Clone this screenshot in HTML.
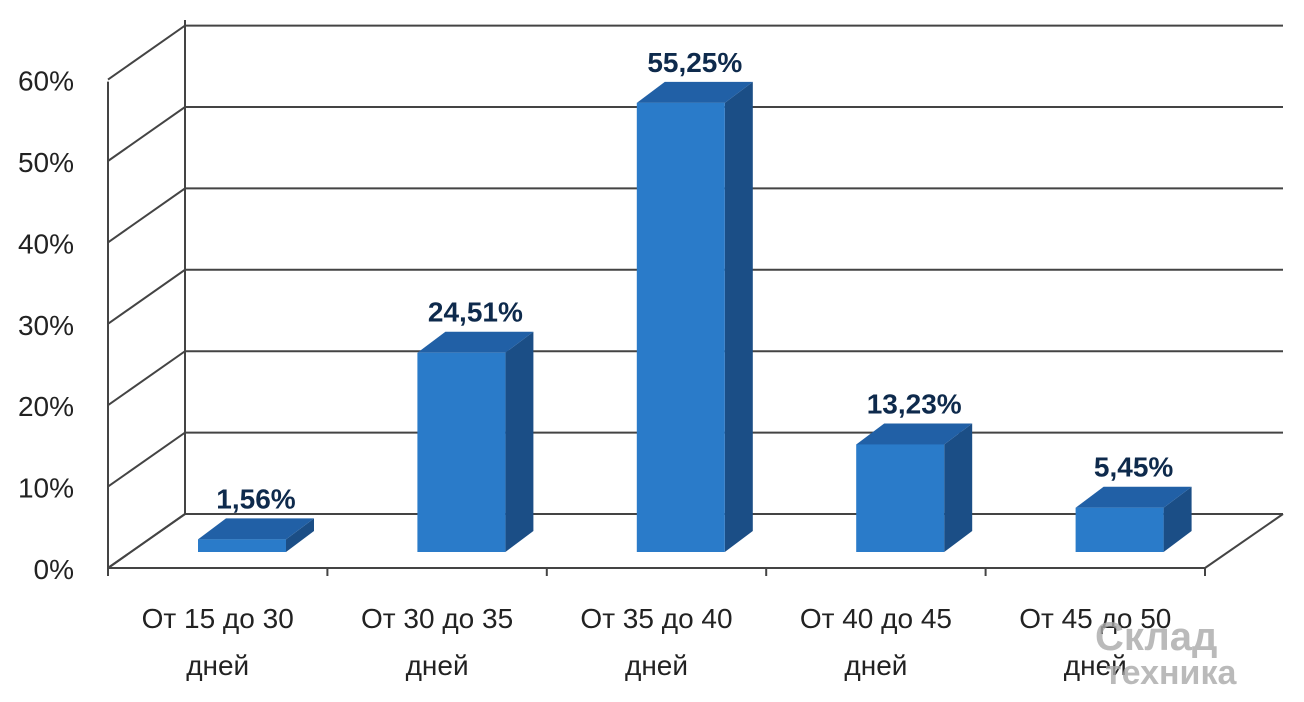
<!DOCTYPE html>
<html><head><meta charset="utf-8"><style>
body{margin:0;background:#fff;width:1304px;height:697px;overflow:hidden}
svg{font-family:"Liberation Sans",sans-serif}
</style></head><body>
<svg id="c" width="1304" height="697"></svg>
<script>
const categories=["От 15 до 30|дней","От 30 до 35|дней","От 35 до 40|дней","От 40 до 45|дней","От 45 до 50|дней"];
const values=[1.56,24.51,55.25,13.23,5.45];
const valueLabels=["1,56%","24,51%","55,25%","13,23%","5,45%"];
const yTicks=[0,10,20,30,40,50,60];
const yTickLabels=["0%","10%","20%","30%","40%","50%","60%"];
const NS="http://www.w3.org/2000/svg";
const svg=document.getElementById('c');
function mk(t,a,p){const e=document.createElementNS(NS,t);for(const k in a)e.setAttribute(k,a[k]);(p||svg).appendChild(e);return e;}
const x0=108,x1=1205,y0=568,ddx=77,ddy=-54,pxPer=8.13;
const fy=v=>y0-v*10*0.814*10/10*1; // front axis y for % value
function yF(v){return y0-v*8.14;}
const step=(x1-x0)/categories.length;
// back wall gridlines and left wall
yTicks.forEach((t,i)=>{
 const yf=yF(t);
 let l=mk('polyline',{points:`${x0},${yf} ${x0+ddx},${yf+ddy} 1283,${yf+ddy}`,fill:'none',stroke:'#444','stroke-width':2});
 
 
 let tx=mk('text',{x:74,y:yf+11,'text-anchor':'end','font-size':28,fill:'#222'});
 tx.textContent=yTickLabels[i];
 
 
});
mk('line',{x1:x0,y1:yF(0),x2:x0+ddx,y2:yF(0)+ddy-0,stroke:'#444','stroke-width':2});
mk('line',{x1:x0+ddx,y1:20,x2:x0+ddx,y2:yF(0)+ddy,stroke:'#444','stroke-width':2});
mk('line',{x1:x0,y1:yF(0),x2:x0,y2:yF(60)+2,stroke:'#444','stroke-width':2});
mk('line',{x1:x1,y1:y0,x2:1283,y2:y0+ddy,stroke:'#444','stroke-width':2});
mk('line',{x1:x0,y1:y0,x2:x1,y2:y0,stroke:'#444','stroke-width':2});
for(let i=0;i<=categories.length;i++){const x=x0+i*step;mk('line',{x1:x,y1:y0,x2:x,y2:y0+8,stroke:'#444','stroke-width':2});}
const bw=88,bdx=28,bdy=-21,base=552;
values.forEach((v,i)=>{
 const x=x0+i*step+90,top=base-v*pxPer;
 const g=mk('g',{});
 
 
 mk('polygon',{points:`${x+bw},${top} ${x+bw+bdx},${top+bdy} ${x+bw+bdx},${base+bdy} ${x+bw},${base}`,fill:'#1b4e86'},g);
 mk('polygon',{points:`${x},${top} ${x+bdx},${top+bdy} ${x+bw+bdx},${top+bdy} ${x+bw},${top}`,fill:'#2160a6'},g);
 mk('rect',{x:x,y:top,width:bw,height:base-top,fill:'#2a7bc9'},g);
 const t=mk('text',{x:x+(bw+bdx)/2,y:top+bdy-10,'text-anchor':'middle','font-size':28,'font-weight':'bold',fill:'#0e2a4c'});
 t.textContent=valueLabels[i];
 
 
 const parts=categories[i].split('|');
 parts.forEach((p,j)=>{
  const c=mk('text',{x:x0+i*step+step/2,y:628+j*47,'text-anchor':'middle','font-size':28,fill:'#222'});
  c.textContent=p;
  
  
 });
});
const w=mk('text',{x:1095,y:650,'font-size':40,'font-weight':'bold',fill:'#aaa',opacity:0.8});
w.textContent="Склад";


const w2=mk('text',{x:1105,y:684,'font-size':34,'font-weight':'bold',fill:'#aaa',opacity:0.8});
w2.textContent="техника";


</script>
</body></html>
